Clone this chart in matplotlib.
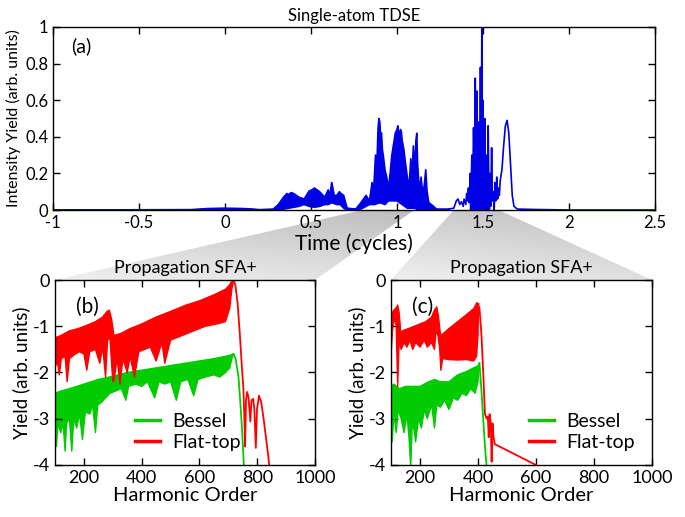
import numpy as np
import matplotlib
matplotlib.use('Agg')
import matplotlib.pyplot as plt
from matplotlib.patches import Polygon

plt.rcParams['font.family'] = ['Lato', 'DejaVu Sans']
plt.rcParams['axes.unicode_minus'] = False

# ---- panel (a): single-atom TDSE time profile ----
# dense part drawn as band between upper / lower envelope
t_up = [-1.0, -0.2, -0.1, 0.0, 0.1, 0.15, 0.2, 0.28, 0.31, 0.34, 0.36, 0.37, 0.385, 0.40,
        0.415, 0.43, 0.46, 0.48, 0.49, 0.505, 0.52, 0.535, 0.55, 0.58, 0.60, 0.61, 0.62,
        0.625, 0.635, 0.65, 0.665, 0.675, 0.69, 0.71, 0.76, 0.79, 0.82, 0.84, 0.855,
        0.865, 0.875, 0.883, 0.89, 0.895, 0.90, 0.905, 0.91, 0.915, 0.92, 0.93, 0.94,
        0.95, 0.96, 0.97, 0.98, 0.99, 1.0, 1.005, 1.01, 1.02, 1.025, 1.03, 1.04, 1.05,
        1.06, 1.07, 1.08, 1.085, 1.095, 1.10, 1.11, 1.115, 1.12, 1.13, 1.14, 1.15, 1.16,
        1.167, 1.175, 1.185, 1.20, 1.23, 1.30]
y_up = [0.0, 0.002, 0.008, 0.01, 0.008, 0.006, 0.002, 0.005, 0.03, 0.07, 0.09, 0.085, 0.095,
        0.09, 0.08, 0.07, 0.06, 0.09, 0.105, 0.11, 0.12, 0.11, 0.10, 0.07, 0.11, 0.08, 0.15,
        0.13, 0.08, 0.08, 0.10, 0.09, 0.08, 0.01, 0.005, 0.04, 0.08, 0.05, 0.15,
        0.12, 0.30, 0.25, 0.45, 0.50, 0.48, 0.40, 0.42, 0.33, 0.30, 0.22, 0.18,
        0.12, 0.20, 0.30, 0.36, 0.42, 0.44, 0.46, 0.40, 0.44, 0.43, 0.38, 0.33, 0.25,
        0.18, 0.12, 0.28, 0.15, 0.35, 0.20, 0.38, 0.42, 0.25, 0.10, 0.18, 0.08, 0.15,
        0.22, 0.10, 0.04, 0.03, 0.005, 0.005]
t_lo = [-1.0, 0.3, 0.34, 0.37, 0.40, 0.43, 0.46, 0.49, 0.52, 0.55, 0.58, 0.60, 0.62, 0.65,
        0.67, 0.69, 0.71, 0.79, 0.84, 0.87, 0.90, 0.93, 0.95, 0.97, 1.0, 1.03, 1.06, 1.10,
        1.13, 1.30]
y_lo = [0.0, 0.0, 0.005, 0.01, 0.015, 0.02, 0.03, 0.02, 0.015, 0.02, 0.03, 0.03, 0.04, 0.03,
        0.03, 0.01, 0.0, 0.005, 0.03, 0.03, 0.04, 0.03, 0.05, 0.05, 0.05, 0.03, 0.01, 0.01,
        0.0, 0.0]
# spiky part around t = 1.5 and the isolated peak
t_spk = [1.30, 1.33, 1.345, 1.355, 1.365, 1.375, 1.385, 1.39, 1.40, 1.405, 1.41, 1.415, 1.42,
         1.425, 1.43, 1.435, 1.44, 1.445, 1.45, 1.455, 1.46, 1.465, 1.47, 1.475, 1.48,
         1.485, 1.49, 1.493, 1.497, 1.50, 1.505, 1.51, 1.515, 1.52, 1.525, 1.53, 1.535,
         1.54, 1.545, 1.55, 1.555, 1.56, 1.565, 1.57, 1.575, 1.58, 1.585, 1.59, 1.595,
         1.60, 1.61, 1.62, 1.63, 1.64, 1.65, 1.66, 1.67, 1.68, 1.70, 1.80, 2.0, 2.5]
y_spk = [0.005, 0.01, 0.05, 0.06, 0.03, 0.045, 0.02, 0.06, 0.03, 0.09, 0.05, 0.12, 0.04,
         0.20, 0.08, 0.30, 0.10, 0.45, 0.15, 0.72, 0.20, 0.65, 0.10, 0.48, 0.15,
         0.78, 0.0, 1.0, 0.05, 0.60, 0.0, 0.50, 0.10, 0.30, 0.02, 0.46, 0.05,
         0.20, 0.02, 0.34, 0.05, 0.10, 0.0, 0.15, 0.05, 0.18, 0.06, 0.12, 0.08,
         0.16, 0.22, 0.35, 0.46, 0.49, 0.42, 0.25, 0.08, 0.02, 0.005, 0.003, 0.0, 0.0]
t_fill2 = [1.42, 1.44, 1.455, 1.47, 1.485, 1.50, 1.52, 1.54]
y_fill2 = [0.10, 0.30, 0.50, 0.40, 0.45, 0.35, 0.20, 0.10]

# time windows that feed panels (b) and (c)
window_b = [0.80, 1.10]
window_c = [1.33, 1.59]

# ---- panel (b) ----
hb_r_up = [100, 120, 150, 180, 210, 240, 265, 280, 288, 296, 304, 330, 360, 400, 450, 500,
           550, 600, 650, 690, 705, 712, 718]
yb_r_up = [-1.25, -1.2, -1.1, -1.05, -0.98, -0.9, -0.8, -0.68, -0.65, -0.85, -1.2, -1.15,
           -1.05, -0.95, -0.8, -0.68, -0.55, -0.45, -0.32, -0.2, -0.1, -0.02, 0.0]
hb_r_lo = [100, 108, 115, 122, 135, 142, 150, 170, 185, 200, 210, 220, 240, 255, 265, 275,
           282, 290, 300, 305, 315, 325, 335, 350, 360, 375, 390, 410, 430, 450, 470, 480,
           500, 540, 580, 620, 660, 690, 705, 712, 718]
yb_r_lo = [-1.9, -1.75, -2.05, -1.7, -1.65, -2.2, -1.7, -1.6, -1.55, -1.6, -1.95, -1.55,
           -1.5, -1.8, -1.45, -2.1, -1.3, -1.25, -2.2, -2.15, -1.7, -2.25, -1.7, -2.0, -1.65,
           -2.1, -1.55, -1.5, -1.45, -1.75, -1.35, -1.8, -1.3, -1.2, -1.1, -1.0, -0.95,
           -0.9, -0.6, -0.2, 0.0]
hb_r_tail = [718, 724, 732, 740, 746, 752, 755, 758, 761, 765, 770, 776, 780, 786, 790, 795,
             799, 806, 814, 822, 830, 838, 842]
yb_r_tail = [0.0, -0.1, -0.5, -1.2, -1.8, -2.35, -2.9, -3.6, -2.6, -2.42, -2.55, -3.06, -2.6,
             -2.57, -2.8, -3.63, -2.8, -2.5, -2.65, -3.0, -3.4, -3.8, -4.05]

hb_g_up = [100, 120, 150, 200, 250, 300, 350, 400, 450, 500, 550, 600, 650, 690, 710, 718]
yb_g_up = [-2.45, -2.4, -2.35, -2.25, -2.15, -2.08, -2.0, -1.95, -1.9, -1.85, -1.8, -1.75,
           -1.7, -1.65, -1.62, -1.6]
hb_g_lo = [100, 105, 110, 120, 128, 135, 140, 150, 158, 165, 175, 185, 195, 205, 220, 230,
           240, 248, 260, 275, 290, 310, 330, 345, 355, 380, 400, 420, 445, 460, 480, 500,
           520, 535, 560, 580, 595, 620, 650, 670, 690, 705, 712, 718]
yb_g_lo = [-3.2, -3.6, -3.1, -3.3, -3.1, -3.7, -3.1, -3.0, -3.7, -3.0, -3.2, -2.9, -3.45,
           -2.85, -2.9, -2.7, -3.3, -2.7, -2.65, -2.55, -2.45, -2.4, -2.35, -2.6, -2.3, -2.25,
           -2.3, -2.2, -2.55, -2.2, -2.25, -2.2, -2.6, -2.2, -2.15, -2.5, -2.15, -2.1, -2.05,
           -2.1, -2.0, -1.9, -1.7, -1.6]
hb_g_tail = [718, 725, 735, 742, 748, 754]
yb_g_tail = [-1.6, -1.7, -2.1, -2.7, -3.3, -4.05]

# ---- panel (c) ----
hc_r_up = [100, 110, 118, 123, 128, 134, 140, 160, 180, 200, 220, 240, 250, 258, 264, 270,
           272, 300, 330, 360, 385, 396, 402]
yc_r_up = [-0.75, -0.65, -0.6, -0.54, -0.7, -1.15, -1.1, -1.05, -1.0, -0.95, -0.9, -0.8,
           -0.65, -0.58, -0.8, -1.15, -1.2, -1.05, -0.9, -0.75, -0.62, -0.5, -0.52]
hc_r_lo = [100, 105, 112, 118, 123, 128, 135, 145, 155, 165, 175, 185, 200, 215, 225, 240,
           250, 255, 262, 268, 272, 278, 300, 330, 360, 385, 395, 400, 402]
yc_r_lo = [-1.65, -1.1, -0.8, -1.0, -2.3, -1.3, -1.5, -1.35, -1.45, -1.3, -1.5, -1.35, -1.45,
           -1.3, -1.45, -1.35, -1.5, -1.1, -1.2, -1.5, -1.95, -1.7, -1.72, -1.73, -1.72,
           -1.75, -1.65, -1.2, -0.52]
hc_r_tail = [396, 405, 412, 418, 424, 430, 434, 437, 440, 444, 447, 450, 454, 458, 600]
yc_r_tail = [-0.5, -0.6, -1.2, -2.0, -2.9, -3.0, -2.95, -3.4, -2.9, -3.1, -3.93, -3.1, -3.42,
             -3.55, -4.0]

hc_g_up = [100, 110, 130, 150, 170, 200, 230, 250, 270, 300, 330, 360, 385, 400, 405]
yc_g_up = [-2.3, -2.25, -2.35, -2.3, -2.3, -2.3, -2.2, -2.15, -2.2, -2.2, -2.05, -1.98,
           -1.9, -1.85, -1.8]
hc_g_lo = [100, 104, 110, 118, 125, 135, 145, 155, 162, 168, 174, 185, 195, 205, 215, 225,
           240, 250, 258, 270, 285, 300, 315, 330, 345, 360, 375, 390, 400, 405]
yc_g_lo = [-2.6, -3.5, -2.9, -3.3, -2.8, -3.0, -3.3, -2.9, -3.4, -4.05, -3.0, -3.5, -3.0,
           -3.2, -2.8, -3.0, -2.7, -3.2, -2.7, -2.75, -2.6, -2.8, -2.55, -2.6, -2.45, -2.5,
           -2.35, -2.45, -2.2, -1.8]
hc_g_tail = [405, 412, 418, 424, 430]
yc_g_tail = [-1.8, -2.4, -3.0, -3.6, -4.05]

blue = '#0000e6'
red = '#ff0000'
green = '#00cc00'

fig = plt.figure(figsize=(6.85, 5.17), dpi=100)

# background layer for the gray connectors
bg = fig.add_axes([0, 0, 1, 1], zorder=0)
bg.axis('off')

ax_a = fig.add_axes([0.0774, 0.5938, 0.8788, 0.354], zorder=2)
ax_b = fig.add_axes([0.0803, 0.1006, 0.3796, 0.3578], zorder=2)
ax_c = fig.add_axes([0.5708, 0.1006, 0.381, 0.3578], zorder=2)


def band(ax, xu, yu, xl, yl, color, lw=1):
    xs = np.concatenate([xu, xl[::-1]])
    ys = np.concatenate([yu, yl[::-1]])
    ax.fill(xs, ys, color=color, lw=0)
    ax.plot(xu, yu, color=color, lw=lw)
    ax.plot(xl, yl, color=color, lw=lw)


# panel (a)
band(ax_a, np.array(t_up), np.array(y_up), np.array(t_lo), np.array(y_lo), blue, lw=1.2)
ax_a.fill_between(t_fill2, 0, y_fill2, color=blue, lw=0)
ax_a.plot(t_spk, y_spk, color=blue, lw=1.2)
ax_a.set_xlim(-1, 2.5)
ax_a.set_ylim(0, 1)
ax_a.set_xticks([-1, -0.5, 0, 0.5, 1, 1.5, 2, 2.5])
ax_a.set_xticklabels(['-1', '-0.5', '0', '0.5', '1', '1.5', '2', '2.5'])
ax_a.set_yticks([0, 0.2, 0.4, 0.6, 0.8, 1])
ax_a.set_yticklabels(['0', '0.2', '0.4', '0.6', '0.8', '1'])
ax_a.set_title('Single-atom TDSE', fontsize=12, pad=4)
ax_a.set_xlabel('Time (cycles)', fontsize=15, labelpad=2)
ax_a.set_ylabel('Intensity Yield (arb. units)', fontsize=11.5, labelpad=3)
ax_a.text(0.03, 0.86, '(a)', transform=ax_a.transAxes, fontsize=14)
ax_a.tick_params(labelsize=12)

# panel (b)
band(ax_b, np.array(hb_g_up), np.array(yb_g_up), np.array(hb_g_lo), np.array(yb_g_lo), green)
band(ax_b, np.array(hb_r_up), np.array(yb_r_up), np.array(hb_r_lo), np.array(yb_r_lo), red)
ax_b.plot(hb_g_tail, yb_g_tail, color=green, lw=1.3)
ax_b.plot(hb_r_tail, yb_r_tail, color=red, lw=1.3)
ax_b.plot([], [], color=green, lw=2.5, label='Bessel')
ax_b.plot([], [], color=red, lw=2.5, label='Flat-top')
ax_b.legend(loc='lower left', bbox_to_anchor=(0.24, -0.02), frameon=False, fontsize=14,
            handlelength=1.3, handletextpad=0.6, labelspacing=0.2)
ax_b.text(0.08, 0.82, '(b)', transform=ax_b.transAxes, fontsize=15)

# panel (c)
band(ax_c, np.array(hc_g_up), np.array(yc_g_up), np.array(hc_g_lo), np.array(yc_g_lo), green)
band(ax_c, np.array(hc_r_up), np.array(yc_r_up), np.array(hc_r_lo), np.array(yc_r_lo), red)
ax_c.plot(hc_g_tail, yc_g_tail, color=green, lw=1.3)
ax_c.plot(hc_r_tail, yc_r_tail, color=red, lw=1.3)
ax_c.plot([], [], color=green, lw=2.5, label='Bessel')
ax_c.plot([], [], color=red, lw=2.5, label='Flat-top')
ax_c.legend(loc='lower right', bbox_to_anchor=(1.0, -0.02), frameon=False, fontsize=14,
            handlelength=1.3, handletextpad=0.6, labelspacing=0.2)
ax_c.text(0.08, 0.82, '(c)', transform=ax_c.transAxes, fontsize=15)

for ax in (ax_b, ax_c):
    ax.set_xlim(100, 1000)
    ax.set_ylim(-4, 0)
    ax.set_xticks([200, 400, 600, 800, 1000])
    ax.set_yticks([0, -1, -2, -3, -4])
    ax.set_yticklabels(['0', '-1', '-2', '-3', '-4'])
    ax.set_title('Propagation SFA+', fontsize=13, pad=5)
    ax.set_xlabel('Harmonic Order', fontsize=14.5, labelpad=1)
    ax.set_ylabel('Yield (arb. units)', fontsize=13.5, labelpad=2)
    ax.tick_params(labelsize=13)

for ax in (ax_a, ax_b, ax_c):
    ax.tick_params(direction='in', top=True, right=True, length=5, width=1)
    for s in ax.spines.values():
        s.set_linewidth(1)

# gray connectors from the time windows to the lower panels (figure fraction coords)
fig.canvas.draw()
to_fig = fig.transFigure.inverted()
gy, gx = np.mgrid[0:1:200j, 0:1:200j]
for win, ax in ((window_b, ax_b), (window_c, ax_c)):
    p1 = to_fig.transform(ax_a.transData.transform((win[0], 0)))
    p2 = to_fig.transform(ax_a.transData.transform((win[1], 0)))
    q1 = to_fig.transform(ax.transAxes.transform((0, 1)))
    q2 = to_fig.transform(ax.transAxes.transform((1, 1)))
    poly = Polygon([p1, p2, q2, q1], closed=True, facecolor='none', edgecolor='none',
                   transform=fig.transFigure)
    fig.add_artist(poly)
    x0, x1 = min(q1[0], p1[0]), max(q2[0], p2[0])
    y0, y1 = q1[1], p1[1]
    # lighter near the top panel, darker towards the bottom right
    shade = 0.94 - 0.14 * (1 - gy) - 0.06 * gx
    img = bg.imshow(shade, cmap='gray', vmin=0, vmax=1, origin='upper',
                    extent=[x0, x1, y0, y1], aspect='auto', interpolation='bilinear',
                    transform=fig.transFigure)
    img.set_clip_path(poly)
bg.set_xlim(0, 1)
bg.set_ylim(0, 1)

fig.savefig('out.png', dpi=100)
